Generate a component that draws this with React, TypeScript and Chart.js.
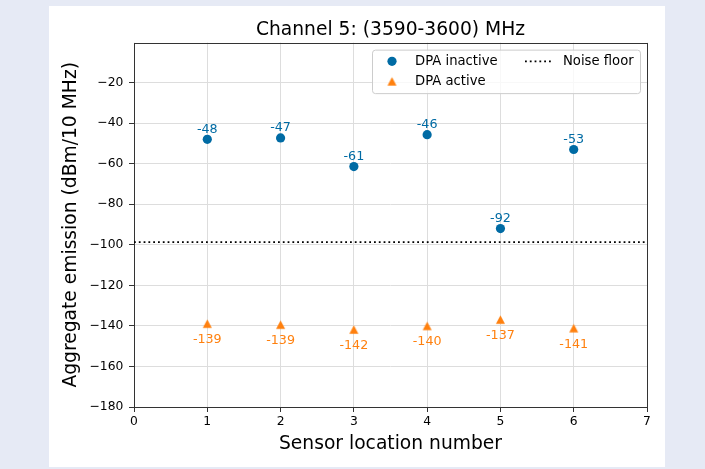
import React, { useEffect, useRef } from 'react';
import { Chart, registerables } from 'chart.js';

Chart.register(...registerables);

const chartTitle = 'Channel 5: (3590-3600) MHz';
const xAxisTitle = 'Sensor location number';
const yAxisTitle = 'Aggregate emission (dBm/10 MHz)';
const sensorLocations = [1, 2, 3, 4, 5, 6];
const dpaInactive = [-48.0, -47.3, -61.4, -45.7, -92.0, -53.0];
const dpaActive = [-138.9, -139.4, -141.8, -140.0, -136.9, -141.1];
const noiseFloor = -98.7;
const xLimits = [0, 7];
const yLimits = [-180, -0.3];
const xTickValues = [0, 1, 2, 3, 4, 5, 6, 7];
const yTickValues = [-180, -160, -140, -120, -100, -80, -60, -40, -20];
const seriesNames = ['DPA inactive', 'DPA active', 'Noise floor'];
const seriesColors = ['#006BA4', '#FF800E', '#000000'];

const FONT = '"DejaVu Sans", sans-serif';
const NOISE_DASH = [1.8, 3];

function makeTriangle(color: string): HTMLCanvasElement {
  const c = document.createElement('canvas');
  c.width = 11;
  c.height = 11;
  const g = c.getContext('2d')!;
  g.fillStyle = color;
  g.beginPath();
  g.moveTo(5.5, 1.3);
  g.lineTo(10, 9.7);
  g.lineTo(1, 9.7);
  g.closePath();
  g.fill();
  return c;
}

export default function App() {
  const canvasRef = useRef<HTMLCanvasElement | null>(null);

  useEffect(() => {
    const canvas = canvasRef.current;
    if (!canvas) return;
    const tri = makeTriangle(seriesColors[1]);

    const framePlugin = {
      id: 'frame',
      beforeDatasetsDraw(chart: any) {
        const { ctx, chartArea } = chart;
        const { left, right, top, bottom } = chartArea;
        ctx.save();
        ctx.strokeStyle = '#333333';
        ctx.lineWidth = 1;
        ctx.strokeRect(Math.round(left) + 0.5, Math.round(top) + 0.5, Math.round(right) - Math.round(left), Math.round(bottom) - Math.round(top));
        ctx.restore();
      },
    };

    const labelPlugin = {
      id: 'pointLabels',
      afterDatasetsDraw(chart: any) {
        const { ctx } = chart;
        ctx.save();
        ctx.font = `12.7px ${FONT}`;
        ctx.textAlign = 'center';
        ctx.textBaseline = 'alphabetic';
        const sets = [
          { idx: 0, values: dpaInactive, dy: -6.8 },
          { idx: 1, values: dpaActive, dy: 19.5 },
        ];
        sets.forEach(({ idx, values, dy }) => {
          const meta = chart.getDatasetMeta(idx);
          ctx.fillStyle = seriesColors[idx];
          meta.data.forEach((pt: any, i: number) => {
            ctx.fillText(String(Math.round(values[i])), pt.x, pt.y + dy);
          });
        });
        ctx.restore();
      },
    };

    const legendPlugin = {
      id: 'customLegend',
      afterDraw(chart: any) {
        const { ctx, chartArea } = chart;
        const bw = 268;
        const bh = 43.5;
        const bx = chartArea.right - 7 - bw;
        const by = chartArea.top + 7;
        ctx.save();
        ctx.beginPath();
        (ctx as any).roundRect(bx + 0.5, by + 0.5, bw, bh, 3);
        ctx.fillStyle = 'rgba(255,255,255,0.8)';
        ctx.fill();
        ctx.strokeStyle = '#cccccc';
        ctx.lineWidth = 1;
        ctx.stroke();

        const r1 = by + 11.7;
        const r2 = by + 31.7;
        ctx.fillStyle = seriesColors[0];
        ctx.beginPath();
        ctx.arc(bx + 20, r1, 4.6, 0, Math.PI * 2);
        ctx.fill();
        ctx.drawImage(tri, bx + 20 - 5.5, r2 - 5.5);
        ctx.strokeStyle = seriesColors[2];
        ctx.lineWidth = 1.8;
        ctx.setLineDash(NOISE_DASH);
        ctx.beginPath();
        ctx.moveTo(bx + 153, r1);
        ctx.lineTo(bx + 180, r1);
        ctx.stroke();
        ctx.setLineDash([]);

        ctx.fillStyle = '#000';
        ctx.font = `13.2px ${FONT}`;
        ctx.textAlign = 'left';
        ctx.textBaseline = 'middle';
        ctx.fillText(seriesNames[0], bx + 43, r1);
        ctx.fillText(seriesNames[1], bx + 43, r2);
        ctx.fillText(seriesNames[2], bx + 191, r1);
        ctx.restore();
      },
    };

    const chart = new Chart(canvas, {
      type: 'scatter',
      data: {
        datasets: [
          {
            label: seriesNames[0],
            data: sensorLocations.map((x, i) => ({ x, y: dpaInactive[i] })),
            backgroundColor: seriesColors[0],
            borderWidth: 0,
            pointRadius: 4.6,
            pointStyle: 'circle',
          },
          {
            label: seriesNames[1],
            data: sensorLocations.map((x, i) => ({ x, y: dpaActive[i] })),
            backgroundColor: seriesColors[1],
            borderWidth: 0,
            pointStyle: tri as any,
            pointRadius: 5,
          },
          {
            label: seriesNames[2],
            data: [
              { x: xLimits[0], y: noiseFloor },
              { x: xLimits[1], y: noiseFloor },
            ],
            showLine: true,
            borderColor: seriesColors[2],
            borderWidth: 1.8,
            borderDash: NOISE_DASH,
            pointRadius: 0,
            fill: false,
          } as any,
        ],
      },
      options: {
        responsive: false,
        animation: false,
        devicePixelRatio: 1,
        layout: { padding: { left: 0, top: 0, right: 18, bottom: 0 } },
        plugins: {
          legend: { display: false },
          tooltip: { enabled: false },
          title: {
            display: true,
            text: chartTitle,
            fullSize: false,
            color: '#000',
            font: { family: FONT, size: 18.7, weight: 'normal' as any },
            padding: { top: 12.6, bottom: 1.6 },
          },
        },
        scales: {
          x: {
            type: 'linear',
            min: xLimits[0],
            max: xLimits[1],
            afterBuildTicks: (s: any) => {
              s.ticks = xTickValues.map((v) => ({ value: v }));
            },
            ticks: {
              padding: 2,
              color: '#000',
              font: { family: FONT, size: 12.3 },
            },
            grid: { color: '#dddddd', lineWidth: 1, tickColor: '#333333', tickLength: 5, tickWidth: 1 },
            border: { display: false },
            title: {
              display: true,
              text: xAxisTitle,
              color: '#000',
              font: { family: FONT, size: 18.7 },
              padding: { top: 0, bottom: 11.4 },
            },
            afterFit: (s: any) => {
              s.height = 60;
            },
          },
          y: {
            type: 'linear',
            min: yLimits[0],
            max: yLimits[1],
            afterBuildTicks: (s: any) => {
              s.ticks = yTickValues.map((v) => ({ value: v }));
            },
            ticks: {
              padding: 5.7,
              color: '#000',
              font: { family: FONT, size: 12.3 },
              callback: (v: any) => String(v).replace('-', '\u2212'),
            },
            grid: { color: '#dddddd', lineWidth: 1, tickColor: '#333333', tickLength: 5, tickWidth: 1 },
            border: { display: false },
            title: {
              display: true,
              text: yAxisTitle,
              color: '#000',
              font: { family: FONT, size: 18.7 },
              padding: { top: 11.4, bottom: 0 },
            },
            afterFit: (s: any) => {
              s.width = 85;
            },
          },
        },
      } as any,
      plugins: [framePlugin, labelPlugin, legendPlugin],
    });

    return () => chart.destroy();
  }, []);

  return (
    <div style={{ position: 'fixed', left: 0, top: 0, width: 705, height: 469, background: '#e6eaf5' }}>
      <div style={{ position: 'absolute', left: 49, top: 6, width: 616, height: 461, background: '#ffffff' }}>
        <canvas ref={canvasRef} width={616} height={461} style={{ display: 'block' }} />
      </div>
    </div>
  );
}
